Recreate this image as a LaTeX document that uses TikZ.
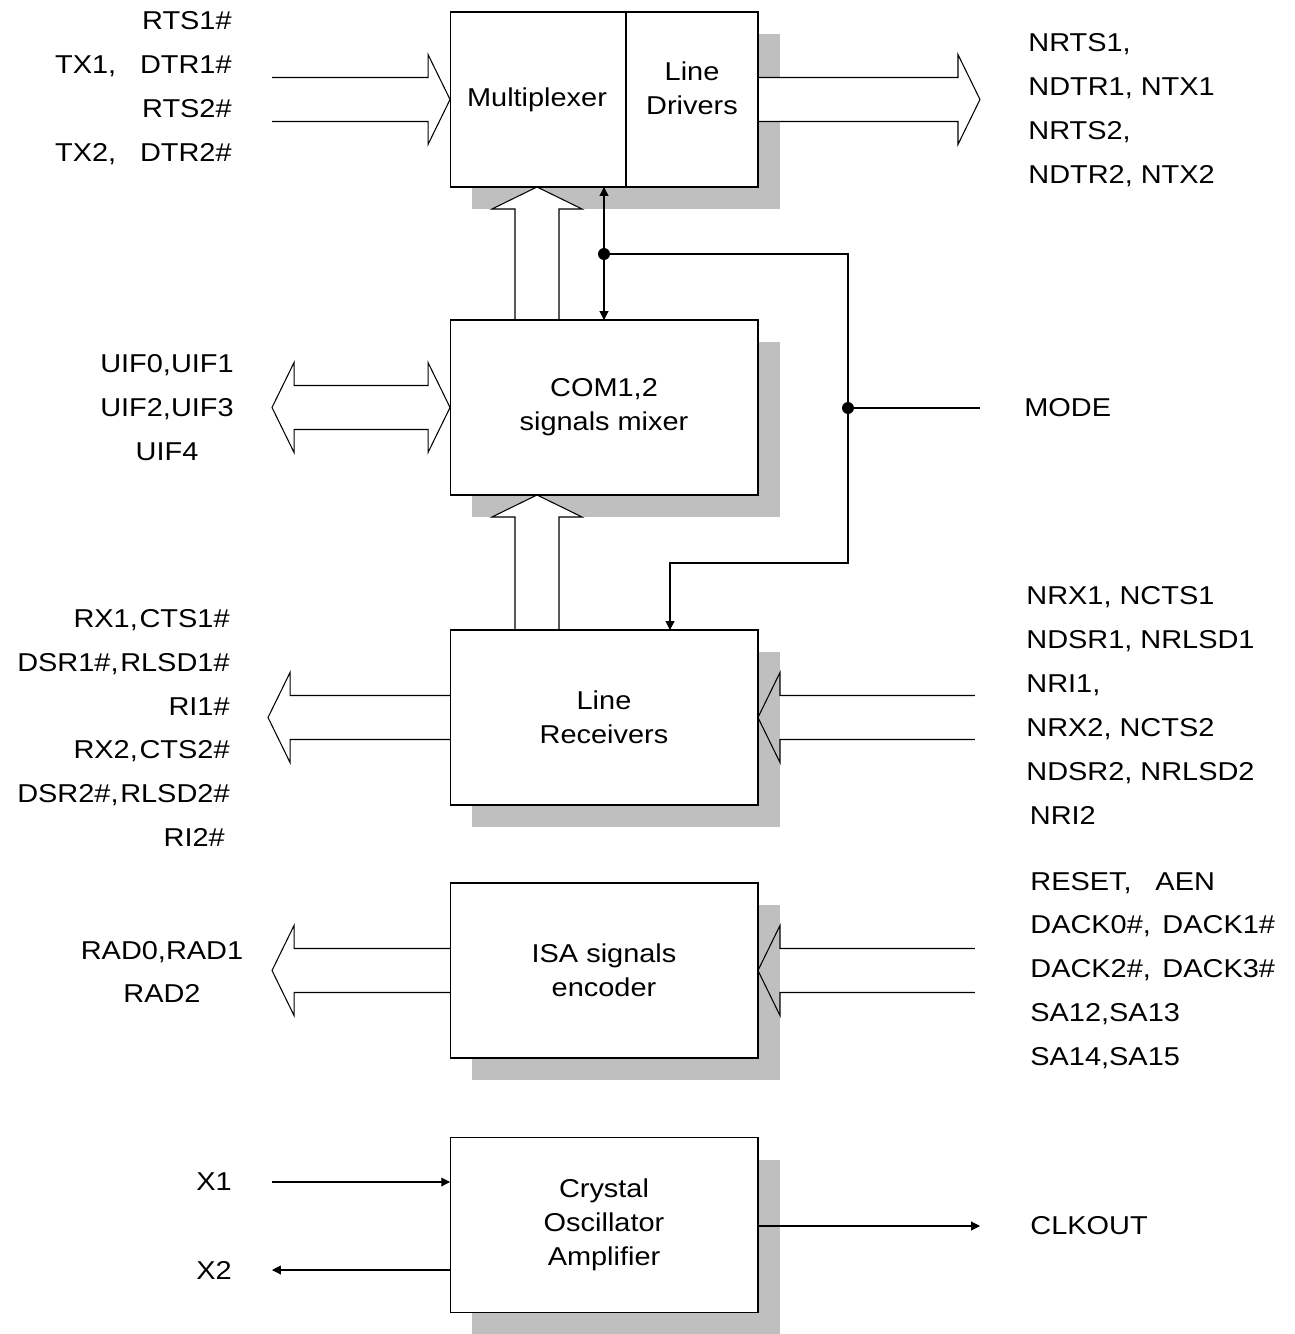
\documentclass[tikz,border=0pt]{standalone}
\usepackage{fontspec}
\setmainfont{Liberation Sans}[FakeStretch=1.12]
\usetikzlibrary{arrows.meta,calc,shadows}

\tikzset{
  blk/.style={draw, fill=white, line width=0.6pt, minimum width=6.16cm, minimum height=3.5cm,
    inner sep=0pt, outer sep=0pt,
    drop shadow={shadow xshift=0.44cm, shadow yshift=-0.44cm, fill=black!25, opacity=1}},
  fatline/.style={draw, line width=0.6pt, line join=miter},
  wire/.style={line width=0.6pt},
  tip/.style={-{Triangle[length=5pt,width=5pt]}},
  lbl/.style={inner sep=0pt, font=\fontsize{14.7}{25}\selectfont},
  inlbl/.style={inner sep=0pt, align=center, font=\fontsize{14.7}{19.5}\selectfont},
  pics/fatarrow/.style args={#1/#2}{code={
    \draw[fatline,fill=#2] (-#1,-22) -- (-22,-22) -- (-22,-45) -- (0,0) -- (-22,45) -- (-22,22) -- (-#1,22);
  }},
  pics/fatboth/.style={code={
    \draw[fatline,fill=white] (0,0) -- (-22,-45) -- (-22,-22) -- ({-#1+22},-22) -- ({-#1+22},-45)
      -- (-#1,0) -- ({-#1+22},45) -- ({-#1+22},22) -- (-22,22) -- (-22,45) -- cycle;
  }},
}

\begin{document}
\begin{tikzpicture}[x=0.02cm, y=-0.02cm]
			%%%%% START %%%%%
			\useasboundingbox (0,0) rectangle (1294,1334);
			
			\node[blk] (mux) at (604,99.5) {};
			\node[blk] (mixer) at (604,407.5) {};
			\node[blk] (recv) at (604,717.5) {};
			\node[blk] (isa) at (604,970.5) {};
			\node[blk] (osc) at (604,1225) {};
			
			\draw[wire] ($(mux.north)+(22,0)$) -- ($(mux.south)+(22,0)$);
			
			\node[inlbl] (muxtxt) at (537,100) {Multiplexer};
			\node[inlbl] (drvtxt) at (692,88) {Line\\Drivers};
			\node[inlbl] (mixtxt) at (mixer) {COM1,2\\signals mixer};
			\node[inlbl] (recvtxt) at (recv) {Line\\Receivers};
			\node[inlbl] (isatxt) at (isa) {ISA signals\\encoder};
			\node[inlbl] (osctxt) at (osc) {Crystal\\Oscillator\\Amplifier};
			
			%%%%% signal names %%%%%
			\node[lbl, align=right, anchor=east] (txin) at (232,88)
				{RTS1\#\\TX1,\hspace{9pt} DTR1\#\\RTS2\#\\TX2,\hspace{9pt} DTR2\#};
			\node[lbl, align=left, anchor=west] (ntxout) at (1028,110)
				{NRTS1,\\NDTR1, NTX1\\NRTS2,\\NDTR2, NTX2};
			\node[lbl, align=center] (uif) at (167,408) {UIF0,UIF1\\UIF2,UIF3\\UIF4};
			\node[lbl, anchor=west] (mode) at (1024,408) {MODE};
			\node[lbl, align=right, anchor=east] (rxout) at (230,728)
				{RX1,\hspace{1pt}CTS1\#\\DSR1\#,\hspace{1pt}RLSD1\#\\RI1\#\hspace*{2.8pt}\\RX2,\hspace{1pt}CTS2\#\\DSR2\#,\hspace{1pt}RLSD2\#\\RI2\#\hspace*{2.8pt}};
			\node[lbl, align=left, anchor=west] (nrxin) at (1026,705.5)
				{NRX1, NCTS1\\NDSR1, NRLSD1\\NRI1,\\NRX2, NCTS2\\NDSR2, NRLSD2\\\hspace*{2pt}NRI2};
			\node[lbl, align=center] (rad) at (162,972) {RAD0,RAD1\\RAD2};
			\node[lbl, align=left, anchor=west] (isain) at (1030,970.5)
				{RESET,\hspace{9pt} AEN\\DACK0\#,\hspace{2pt} DACK1\#\\DACK2\#,\hspace{2pt} DACK3\#\\SA12,SA13\\SA14,SA15};
			\node[lbl, anchor=east] (xone) at (232,1182) {X1};
			\node[lbl, anchor=east] (xtwo) at (232,1270) {X2};
			\node[lbl, anchor=west] (clkout) at (1030,1226) {CLKOUT};
			
			%%%%% wide arrows %%%%%
			\pic at (mux.west) {fatarrow=178/white};
			\pic at ($(mux.east)+(222,0)$) {fatarrow=222/white};
			\pic[rotate=90] at ($(mux.south)+(-67,0)$) {fatarrow=133/white};
			\pic at (mixer.west) {fatboth=178};
			\pic[rotate=90] at ($(mixer.south)+(-67,0)$) {fatarrow=135/white};
			\pic[rotate=180] at ($(recv.west)+(-182,0)$) {fatarrow=182/white};
			\pic[rotate=180] at (recv.east) {fatarrow=217/none};
			\pic[rotate=180] at ($(isa.west)+(-178,0)$) {fatarrow=178/white};
			\pic[rotate=180] at (isa.east) {fatarrow=217/none};
			
			% box edges back on top of the arrow fills
			\foreach \b in {mux,mixer,recv,isa,osc}
				\draw[wire] (\b.north west) rectangle (\b.south east);
			
			%%%%% mode wiring %%%%%
			\coordinate (jA) at (604,254);
			\coordinate (jB) at (848,408);
			\coordinate (bend) at (848,563);
			\coordinate (mtap) at ($(recv.north)+(66,0)$);
			\coordinate (modeend) at (980,408);
			\draw[wire, {Triangle[length=5pt,width=5pt]}-{Triangle[length=5pt,width=5pt]}]
				(mux.south -| jA) -- (mixer.north -| jA);
			\draw[wire, tip] (jA) -| (bend) -| (mtap);
			\draw[wire] (jB) -- (modeend);
			\fill (jA) circle (3.4pt);
			\fill (jB) circle (3.4pt);
			
			%%%%% oscillator %%%%%
			\coordinate (xoneend) at (272,1182);
			\coordinate (xtwoend) at (272,1270);
			\coordinate (clkend) at (980,1226);
			\draw[wire, tip] (xoneend) -- (xoneend -| osc.west);
			\draw[wire, tip] (xtwoend -| osc.west) -- (xtwoend);
			\draw[wire, tip] (clkend -| osc.east) -- (clkend);
			
			%%%%% END %%%%%
\end{tikzpicture}
\end{document}
